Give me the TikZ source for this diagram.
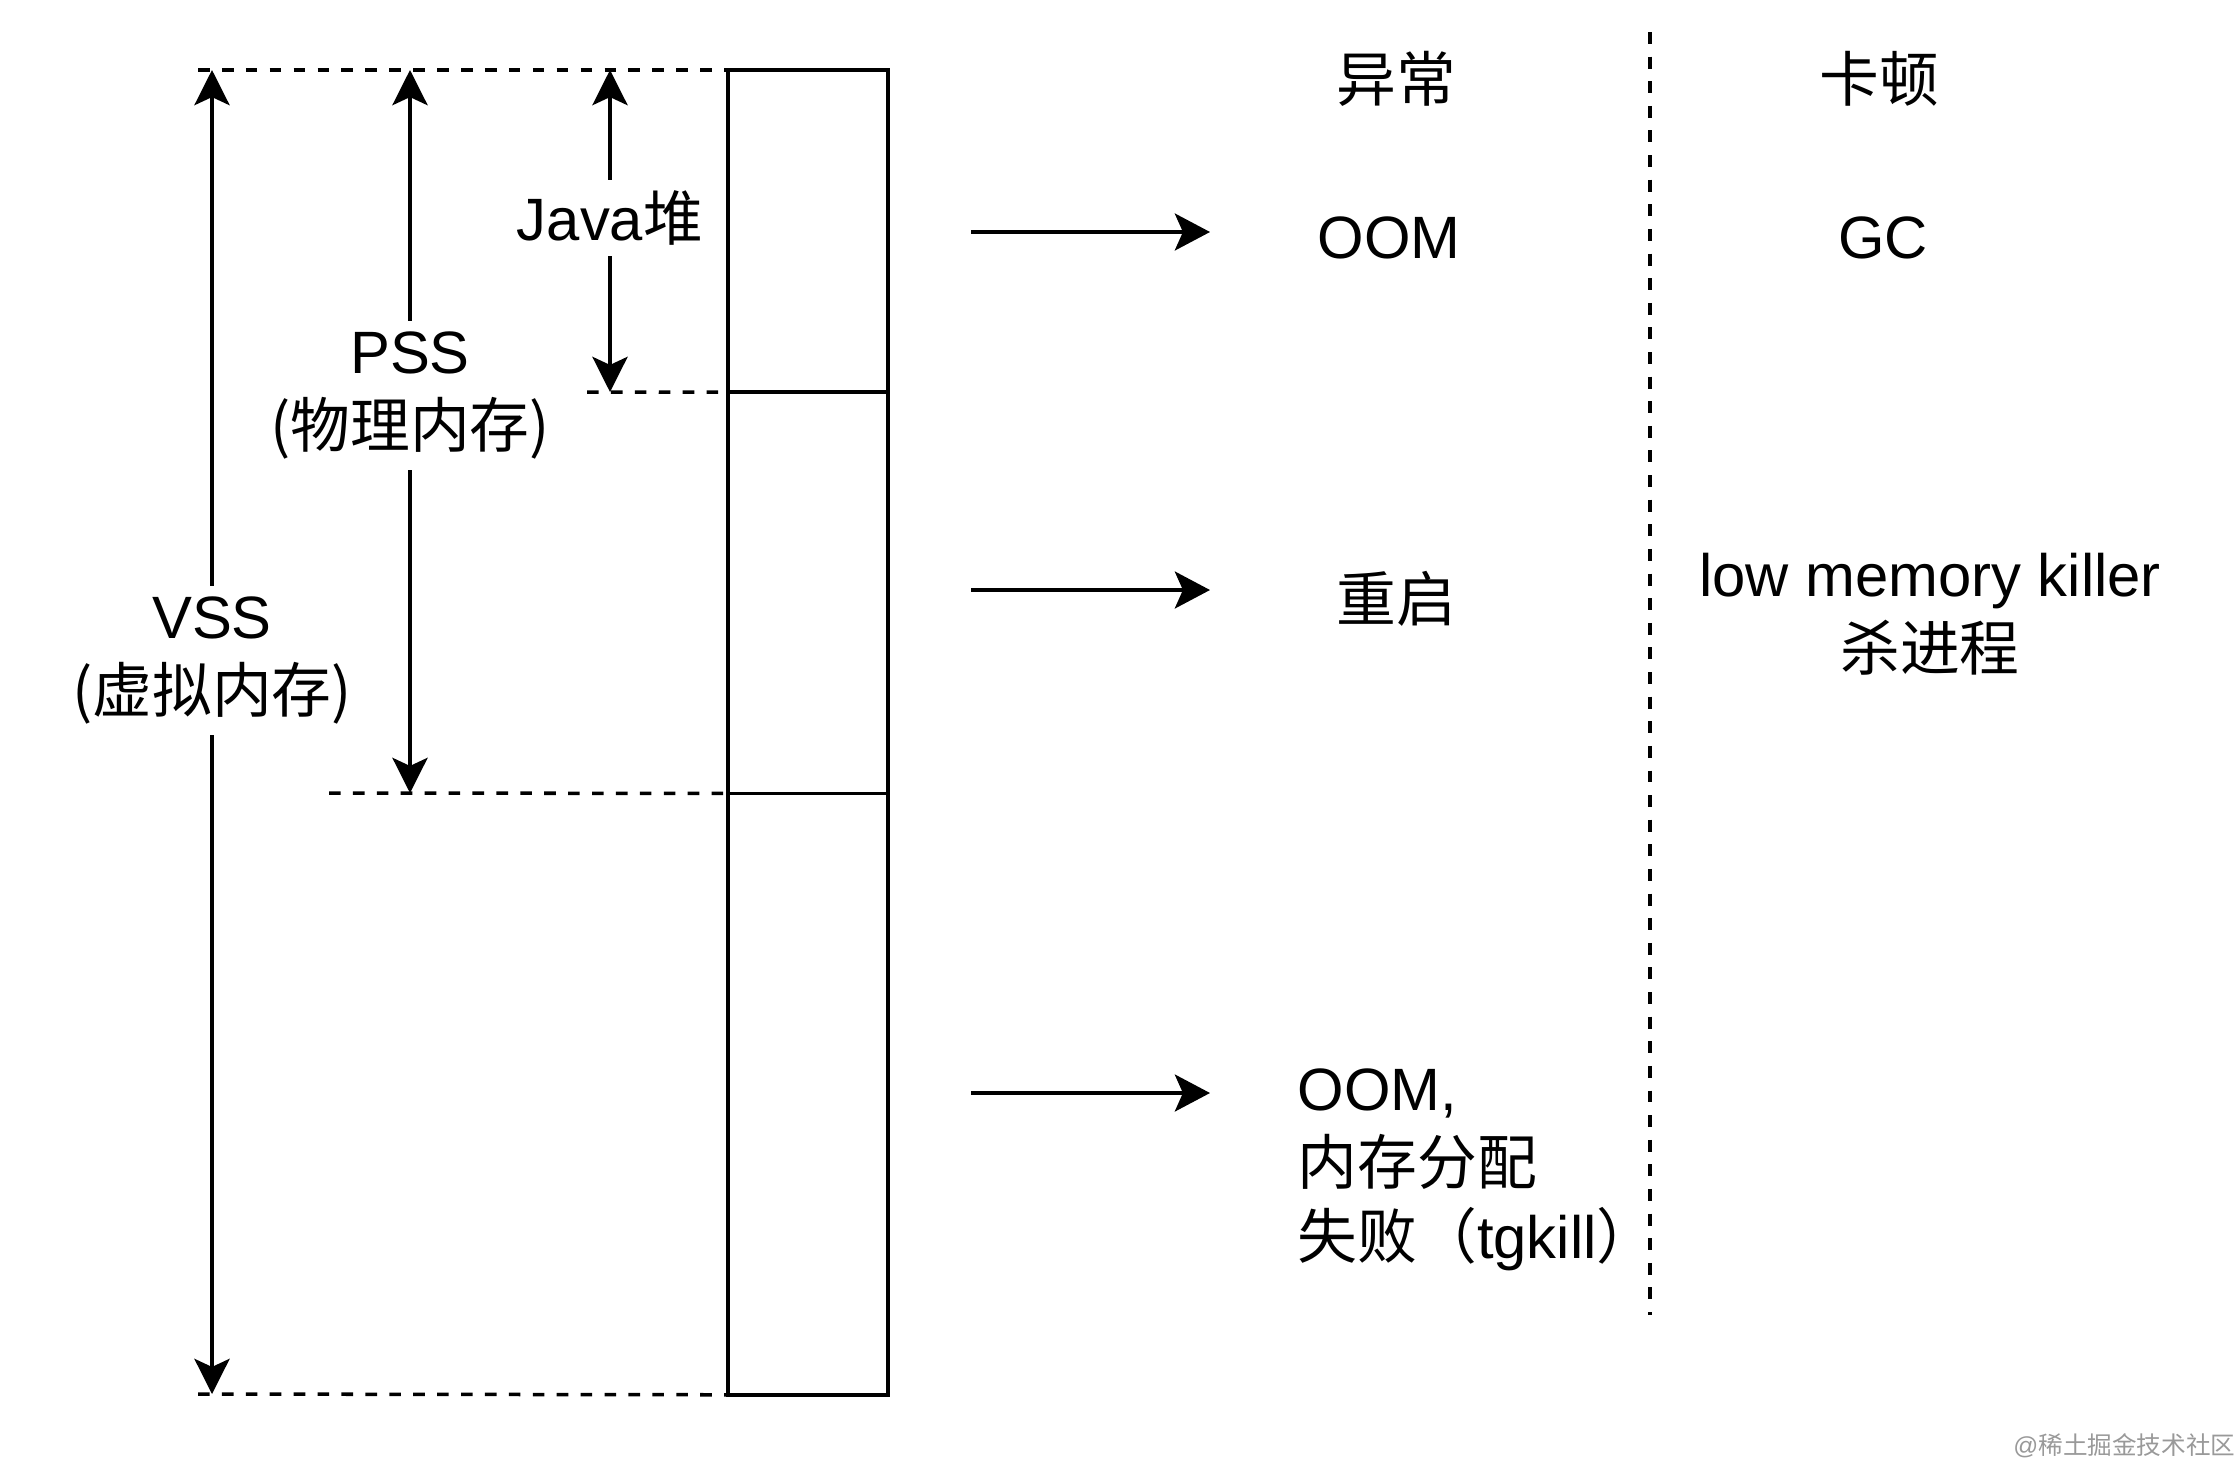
\documentclass[tikz,border=0pt]{standalone}
\usepackage{fontspec}
\setmainfont{Liberation Sans}
\newfontfamily\zhfont{Noto Sans CJK SC}
\newcommand{\zh}[1]{{\zhfont #1}}
\usetikzlibrary{arrows.meta}

\tikzset{
  seg/.style={draw, line width=1.1pt, minimum width=1.6cm, inner sep=0pt, outer sep=0pt, anchor=north west},
  guide/.style={dash pattern=on 3.3pt off 3.5pt, line width=1pt},
  sep/.style={dash pattern=on 3.4pt off 3.6pt, line width=1.1pt},
  tip/.style={Stealth[length=10pt,width=10pt,inset=2.3pt]},
  span/.style={{Stealth[length=10pt,width=10pt,inset=2.3pt]}-{Stealth[length=10pt,width=10pt,inset=2.3pt]}, line width=1.1pt},
  push/.style={-{Stealth[length=10pt,width=10.5pt,inset=2.3pt]}, line width=1.1pt},
  lbl/.style={fill=white, align=center, inner sep=3pt, font=\fontsize{17}{21}\selectfont},
  txt/.style={align=center, inner sep=0pt, font=\fontsize{17}{21}\selectfont}
}

\begin{document}
\begin{tikzpicture}[x=0.01cm, y=-0.01cm]
  \useasboundingbox (0,0) rectangle (2240,1460);
  % memory column
  \node[seg, minimum height=3.22cm] (heap) at (728,70) {};
  \node[seg, minimum height=4.01cm] (pss) at (heap.south west) {};
  \node[seg, minimum height=6.01cm] (vss) at (pss.south west) {};
  % guide lines
  \coordinate (topL) at (198,70);
  \coordinate (heapL) at (587,392);
  \coordinate (pssL) at (329,793);
  \coordinate (botL) at (198,1394);
  \draw[guide] (topL) -- (heap.north west);
  \draw[guide] (heapL) -- (heap.south west);
  \draw[guide] (pssL) -- (pss.south west);
  \draw[guide] (botL) -- (vss.south west);
  % spans
  \coordinate (vssT) at (212,70);
  \coordinate (vssB) at (212,1394);
  \coordinate (pssT) at (410,70);
  \coordinate (pssB) at (410,793);
  \coordinate (heapT) at (610,70);
  \coordinate (heapB) at (610,392);
  \draw[span] (vssT) -- node[lbl, pos=0.446] (vssl) {VSS\\\zh{(虚拟内存)}} (vssB);
  \draw[span] (pssT) -- node[lbl, pos=0.45] (pssl) {PSS\\\zh{(物理内存)}} (pssB);
  \draw[span] (heapT) -- node[lbl, pos=0.46] (heapl) {Java\zh{堆}} (heapB);
  % columns
  \node[txt] (hexc) at (1396,79) {\zh{异常}};
  \node[txt] (hlag) at (1879,79) {\zh{卡顿}};
  \coordinate (sepT) at (1650,32);
  \coordinate (sepB) at (1650,1315);
  \draw[sep] (sepT) -- (sepB);
  \node[txt] (oom) at (1389,238) {OOM};
  \node[txt] (gc) at (1883,238) {GC};
  \node[txt] (reboot) at (1396,599) {\zh{重启}};
  \node[txt] (lmk) at (1930,614) {low memory killer\\\zh{杀进程}};
  \node[txt, align=left, anchor=west] (alloc) at (1297,1170) {OOM,\\\zh{内存分配}\\\zh{失败（}tgkill\zh{）}};
  % arrows
  \foreach \y/\n in {232/a, 590/b, 1093/c} {
    \coordinate (s\n) at (971,\y);
    \coordinate (e\n) at (1210,\y);
    \draw[push] (s\n) -- (e\n);
  }
  \node[text=black!40, inner sep=0pt, anchor=east, font=\fontsize{7}{8}\selectfont] (mark) at (2236,1446) {@\zh{稀土掘金技术社区}};
\end{tikzpicture}
\end{document}
